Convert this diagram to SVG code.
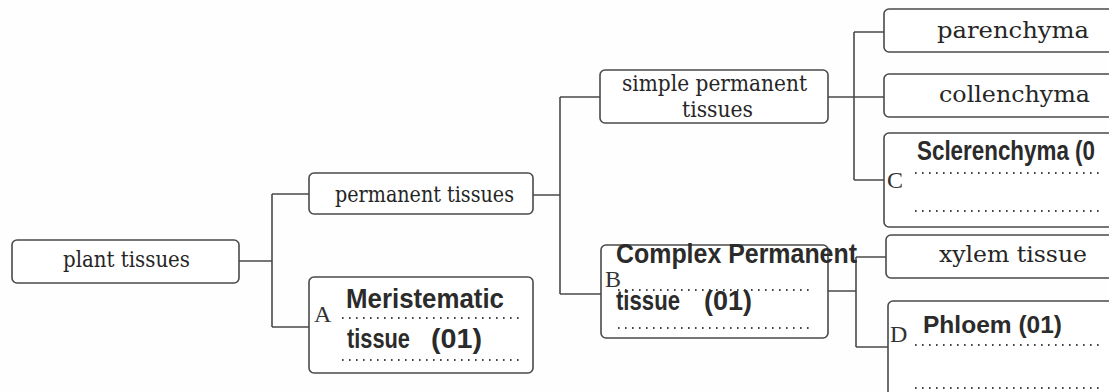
<svg xmlns="http://www.w3.org/2000/svg" width="1109" height="392" viewBox="0 0 1109 392">
<style>
.box{fill:#fff;stroke:#4a4a4a;stroke-width:1.6}
.ln{fill:none;stroke:#4a4a4a;stroke-width:1.6}
.dot{fill:none;stroke:#444;stroke-width:2;stroke-dasharray:1.6 5.4}
.sf{font-family:"DejaVu Serif","Liberation Serif",serif;font-size:22px;fill:#262626}
.lt{font-family:"Liberation Serif",serif;font-size:24px;fill:#333}
.bd{font-family:"Liberation Sans",Arial,sans-serif;font-weight:bold;fill:#2b2b2b}
</style>
<rect width="1109" height="392" fill="#fefefe"/>
<g id="connectors">
<path class="ln" d="M239,261H272M272,194V327M272,194H309M272,327H309"/>
<path class="ln" d="M533,195H560M560,97V294M560,97H600M560,294H601"/>
<path class="ln" d="M828,97H884M854,32V180M854,32H884M854,180H884"/>
<path class="ln" d="M828,291H856M856,257V347M856,257H886M856,347H888"/>
</g>
<g id="plant-tissues">
<rect class="box" x="12" y="240" width="227" height="43" rx="5"/>
<text class="sf" x="63" y="267" textLength="127" lengthAdjust="spacingAndGlyphs">plant tissues</text>
</g>
<g id="permanent-tissues">
<rect class="box" x="309" y="173" width="224" height="41" rx="5"/>
<text class="sf" x="335" y="202" textLength="179" lengthAdjust="spacingAndGlyphs">permanent tissues</text>
</g>
<g id="node-A">
<rect class="box" x="309" y="277" width="224" height="96" rx="5"/>
<text class="lt" x="314" y="322">A</text>
<text class="bd" font-size="27" x="346" y="308" textLength="158" lengthAdjust="spacingAndGlyphs">Meristematic</text>
<path class="dot" d="M342,318H523M342,360H523"/>
<text class="bd" font-size="27" y="348"><tspan x="347" textLength="63" lengthAdjust="spacingAndGlyphs">tissue</tspan><tspan x="431" textLength="51" lengthAdjust="spacingAndGlyphs">(01)</tspan></text>
</g>
<g id="simple-permanent">
<rect class="box" x="600" y="70" width="228" height="53" rx="5"/>
<text class="sf" x="622" y="91" textLength="185" lengthAdjust="spacingAndGlyphs">simple permanent</text>
<text class="sf" x="682" y="117" textLength="71" lengthAdjust="spacingAndGlyphs">tissues</text>
</g>
<g id="node-B">
<rect class="box" x="601" y="245" width="227" height="93" rx="5"/>
<text class="lt" x="605" y="287">B</text>
<text class="bd" font-size="27" x="616" y="263" textLength="241" lengthAdjust="spacingAndGlyphs">Complex Permanent</text>
<path class="dot" d="M618,290H814M618,328H814"/>
<text class="bd" font-size="27" y="310"><tspan x="616" textLength="64" lengthAdjust="spacingAndGlyphs">tissue</tspan><tspan x="704" textLength="48" lengthAdjust="spacingAndGlyphs">(01)</tspan></text>
</g>
<g id="parenchyma">
<rect class="box" x="884" y="9" width="240" height="43" rx="5"/>
<text class="sf" x="937" y="38" textLength="152" lengthAdjust="spacingAndGlyphs">parenchyma</text>
</g>
<g id="collenchyma">
<rect class="box" x="884" y="74" width="240" height="43" rx="5"/>
<text class="sf" x="939" y="102" textLength="151" lengthAdjust="spacingAndGlyphs">collenchyma</text>
</g>
<g id="node-C">
<rect class="box" x="884" y="133" width="240" height="94" rx="5"/>
<text class="lt" x="887" y="188">C</text>
<text class="bd" font-size="27" x="917" y="160" textLength="178" lengthAdjust="spacingAndGlyphs">Sclerenchyma (0</text>
<path class="dot" d="M915,173H1104M915,211H1104"/>
</g>
<g id="xylem-tissue">
<rect class="box" x="886" y="235" width="240" height="43" rx="5"/>
<text class="sf" x="939" y="262" textLength="148" lengthAdjust="spacingAndGlyphs">xylem tissue</text>
</g>
<g id="node-D">
<rect class="box" x="888" y="301" width="240" height="110" rx="5"/>
<text class="lt" x="890" y="342">D</text>
<text class="bd" font-size="24" x="923" y="333" textLength="139" lengthAdjust="spacingAndGlyphs">Phloem (01)</text>
<path class="dot" d="M915,345H1104M915,388H1104"/>
</g>
</svg>
